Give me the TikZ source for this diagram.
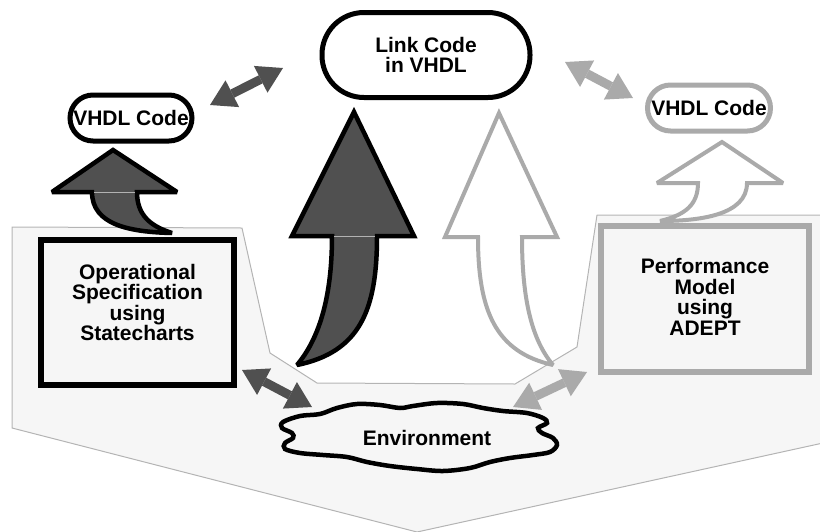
\documentclass[tikz,border=0pt]{standalone}
\usepackage{fontspec}
\setmainfont{Liberation Sans}
\usepackage{tikz}
\usetikzlibrary{arrows.meta, positioning, calc}
\definecolor{darkfill}{HTML}{505050}
\definecolor{lightline}{HTML}{AAAAAA}
\definecolor{bgfill}{HTML}{F6F6F6}
\definecolor{bgline}{HTML}{B4B4B4}

\begin{document}
\begin{tikzpicture}[x=1pt, y=-1pt,
    lbl/.style={font=\fontsize{21}{20.5}\selectfont\bfseries, align=center, inner sep=0pt},
    pill/.style={draw, line width=5pt, fill=white, inner sep=0pt},
    modelbox/.style={draw, line width=6pt, inner sep=0pt},
    dblarrow/.style={line width=9pt,
      {Triangle[length=25pt,width=30pt,line width=0pt]}-{Triangle[length=25pt,width=30pt,line width=0pt]}},
    blockdark/.style={fill=darkfill, draw=black, line width=4.5pt, miter limit=3},
    blocklight/.style={fill=white, draw=lightline, line width=4pt, miter limit=3},
  ]
  \useasboundingbox (0,0) rectangle (820,531);

  % background region
  \draw[bgline, fill=bgfill, line width=1pt] (12,227) -- (242,228) -- (270,353) -- (317,383)
    -- (515,384) -- (577,347) -- (597,215) -- (823,215) -- (823,443) -- (417,532) -- (12,428) -- cycle;

  \node[pill, rounded corners=42pt, minimum width=208pt, minimum height=85pt, lbl] (link) at (426,55) {Link Code\\in VHDL};
  \node[pill, rounded corners=23pt, minimum width=122pt, minimum height=46pt, lbl] (vl) at (131,118) {VHDL Code};
  \node[pill, draw=lightline, rounded corners=23pt, minimum width=123pt, minimum height=46pt, lbl] (vr) at (709,108) {VHDL Code};

  \node[modelbox, minimum width=193pt, minimum height=145pt] (opspec) at (137.5,312.5) {};
  \node[lbl] (opspec-txt) at ($(opspec.center)+(0,-10)$) {Operational\\Specification\\using\\Statecharts};
  \node[modelbox, draw=lightline, minimum width=208pt, minimum height=146pt] (perf) at (705,299) {};
  \node[lbl] (perf-txt) at ($(perf.center)+(0,-2)$) {Performance\\Model\\using\\ADEPT};

  % environment cloud
  \draw[line width=4.5pt, fill=bgfill] plot[smooth cycle, tension=0.55] coordinates {
    (283,422) (300,416) (320,414) (337,408) (357,404) (380,405) (400,408) (413,406)
    (437,403) (463,404) (483,408) (503,411) (527,413) (543,418) (547,423) (538,428)
    (542,433) (553,438) (557,445) (550,452) (533,455) (510,458) (490,462) (470,468)
    (443,471) (417,469) (390,466) (367,462) (347,457) (323,455) (300,453) (285,449)
    (285,443) (293,438) (292,433) (282,428)};
  \node[lbl] (env) at (427,438) {Environment};

  % block arrows
  \draw[blockdark] (172,233) .. controls (130,232) and (92,225) .. (92,192) -- (52,192) -- (113,150)
    -- (177,192) -- (137,192) .. controls (137,215) and (150,226) .. (172,233) -- cycle;
  \draw[gray!60, line width=0.6pt] (94,192) -- (135,192);
  \draw[blockdark] (297,365) .. controls (318,340) and (332,300) .. (332,236) -- (292,236) -- (354,112)
    -- (414,236) -- (377,236) .. controls (377,310) and (360,352) .. (297,365) -- cycle;
  \draw[gray!60, line width=0.6pt] (334,236) -- (375,236);
  \draw[blocklight] (553,365) .. controls (495,352) and (478,310) .. (478,237) -- (445,237) -- (499,113)
    -- (557,237) -- (522,237) .. controls (522,300) and (532,340) .. (553,365) -- cycle;
  \draw[blocklight] (660,221) .. controls (685,215) and (698,205) .. (698,183) -- (657,183) -- (722,142)
    -- (783,183) -- (747,183) .. controls (747,215) and (700,221) .. (660,221) -- cycle;

  % two-way links
  \coordinate (p1) at (210,105);
  \coordinate (p2) at (283,68);
  \coordinate (p3) at (565,62);
  \coordinate (p4) at (633,98);
  \coordinate (p5) at (242,370);
  \coordinate (p6) at (312,407);
  \coordinate (p7) at (513,407);
  \coordinate (p8) at (587,372);
  \draw[dblarrow, darkfill] (p1) -- (p2);
  \draw[dblarrow, lightline] (p3) -- (p4);
  \draw[dblarrow, darkfill] (p5) -- (p6);
  \draw[dblarrow, lightline] (p7) -- (p8);
\end{tikzpicture}
\end{document}
